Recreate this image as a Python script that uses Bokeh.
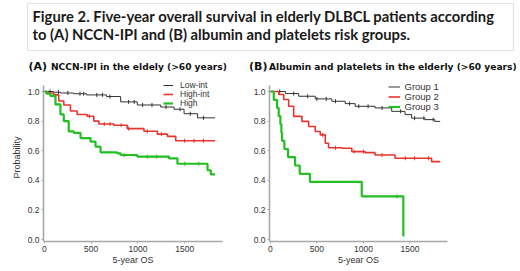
import numpy as np
from bokeh.plotting import figure
from bokeh.models import Label, Legend, LegendItem, Range1d, FixedTicker, BoxAnnotation
from bokeh.layouts import column, row
from bokeh.embed import file_html
from bokeh.resources import INLINE

# ---------------- data ----------------
title_lines = ["Figure 2. Five-year overall survival in elderly DLBCL patients according",
               "to (A) NCCN-IPI and (B) albumin and platelets risk groups."]
panel_a_tag = "(A)"
panel_a_title = "NCCN-IPI in the eldely (>60 years)"
panel_b_tag = "(B)"
panel_b_title = "Albumin and platelets in the elderly (>60 years)"
x_label = "5-year OS"
y_label = "Probability"

x_ticks = [0, 500, 1000, 1500]
y_ticks = [0.0, 0.2, 0.4, 0.6, 0.8, 1.0]
y_tick_labels = ["0.0", "0.2", "0.4", "0.6", "0.8", "1.0"]

# Panel A: NCCN-IPI
a_names = ["Low-int", "High-int", "High"]
a_low_t = [0, 96, 171, 311, 450, 664, 815, 993, 1243, 1386, 1493, 1637, 1825]
a_low_s = [1.0, 0.995, 0.99, 0.985, 0.977, 0.966, 0.93, 0.909, 0.895, 0.88, 0.85, 0.822, 0.822]
a_hint_t = [0, 29, 99, 153, 207, 278, 350, 457, 528, 582, 743, 886, 1064, 1208, 1315, 1404, 1825]
a_hint_s = [1.0, 0.99, 0.977, 0.936, 0.909, 0.868, 0.845, 0.833, 0.80, 0.78, 0.772, 0.749, 0.731, 0.712, 0.697, 0.667, 0.667]
a_high_t = [0, 21, 64, 118, 171, 207, 260, 314, 386, 493, 546, 600, 779, 814, 993, 1332, 1422, 1744, 1779, 1825]
a_high_s = [1.0, 0.985, 0.97, 0.913, 0.845, 0.80, 0.73, 0.72, 0.685, 0.662, 0.628, 0.589, 0.582, 0.571, 0.56, 0.548, 0.512, 0.468, 0.44, 0.44]
a_low_cens = [60, 150, 250, 380, 420, 560, 620, 700, 900, 960, 1050, 1150, 1300, 1450, 1560, 1700]
a_hint_cens = [480, 640, 700, 820, 900, 1100, 1250, 1500, 1600, 1700]
a_high_cens = [850, 1100, 1200, 1500, 1650]

# Panel B: albumin and platelets
b_names = ["Group 1", "Group 2", "Group 3"]
b_g1_t = [0, 161, 304, 482, 661, 804, 911, 1125, 1304, 1447, 1518, 1661, 1768, 1825]
b_g1_s = [1.0, 0.986, 0.968, 0.95, 0.934, 0.918, 0.90, 0.889, 0.866, 0.844, 0.82, 0.81, 0.798, 0.798]
b_g2_t = [0, 89, 143, 196, 250, 339, 411, 482, 536, 590, 625, 768, 875, 1018, 1125, 1340, 1733, 1825]
b_g2_s = [1.0, 0.98, 0.946, 0.90, 0.832, 0.798, 0.764, 0.73, 0.707, 0.65, 0.62, 0.617, 0.594, 0.587, 0.571, 0.549, 0.526, 0.526]
b_g3_t = [0, 36, 71, 89, 107, 118, 125, 150, 190, 265, 315, 425, 982, 1429]
b_g3_s = [1.0, 0.944, 0.889, 0.833, 0.778, 0.722, 0.667, 0.611, 0.556, 0.50, 0.444, 0.389, 0.292, 0.02]
b_g1_cens = [100, 250, 400, 500, 600, 700, 850, 950, 1050, 1200, 1400, 1550, 1650, 1750]
b_g2_cens = [560, 700, 900, 1000, 1200, 1450, 1550, 1700]
b_g3_cens = [1360]

# ---------------- styles ----------------
COLORS = ["#333333", "#e8342f", "#22bf22"]
WIDTHS = [1.0, 1.6, 2.2]
AXIS_COLOR = "#a8a8a8"
TXT = "#333333"
SANS = "Liberation Sans"
X_RANGE = (-10, 1904)
Y_BOT = -0.0135
Y_AXIS_TOP = 1.04
HEAD_H = 73            # px, height of the heading strip
FRAME_H = 168          # px, panel frame height
PX_PER_UNIT = 148.0
Y_TOP = Y_BOT + FRAME_H / PX_PER_UNIT


def step_value(ts, ss, c):
    idx = np.searchsorted(np.asarray(ts), np.asarray(c), side="right") - 1
    return np.asarray(ss)[idx]


def make_panel(width, left, right, series, names, leg_x, leg_ys, leg_cfg, ylab):
    p = figure(width=width, height=FRAME_H + 30, output_backend="svg", toolbar_location=None,
               x_range=Range1d(*X_RANGE), y_range=Range1d(Y_BOT, Y_TOP),
               min_border_left=left, min_border_right=right,
               min_border_top=0, min_border_bottom=30)
    p.outline_line_color = None
    p.grid.visible = False
    p.background_fill_color = "white"
    p.border_fill_color = "white"

    for i, (ts, ss, cens) in enumerate(series):
        r = p.step(ts, ss, mode="after", line_color=COLORS[i], line_width=WIDTHS[i])
        cy = step_value(ts, ss, cens)
        p.scatter(cens, cy, marker="dash", angle=np.pi / 2, size=4,
                  line_color=COLORS[i], line_width=1)
        # one legend row per series, so the rows can sit tightly together
        leg = Legend(items=[LegendItem(label=names[i], renderers=[r])],
                     location=(leg_x, leg_ys[i]), orientation="vertical",
                     label_text_font=SANS, label_text_font_size=leg_cfg["fs"],
                     label_text_color=TXT, label_height=leg_cfg["lh"],
                     glyph_height=leg_cfg["lh"], glyph_width=leg_cfg["gw"],
                     label_standoff=leg_cfg["ls"], spacing=0, padding=0, margin=0,
                     border_line_color=None, background_fill_alpha=0)
        p.add_layout(leg)

    for ax in (p.xaxis[0], p.yaxis[0]):
        ax.axis_line_color = AXIS_COLOR
        ax.axis_line_width = 1.6
        ax.major_tick_line_color = AXIS_COLOR
        ax.major_tick_out = 2
        ax.major_tick_in = 0
        ax.minor_tick_line_color = None
        ax.major_label_text_font = SANS
        ax.major_label_text_font_size = "8.5px"
        ax.major_label_text_color = TXT
        ax.major_label_standoff = 2
        ax.axis_label_text_font = SANS
        ax.axis_label_text_font_size = "9px"
        ax.axis_label_text_font_style = "normal"
        ax.axis_label_text_color = TXT
    p.yaxis.bounds = (Y_BOT, Y_AXIS_TOP)
    p.xaxis.ticker = FixedTicker(ticks=x_ticks)
    p.yaxis.ticker = FixedTicker(ticks=y_ticks)
    p.yaxis.major_label_overrides = {t: l for t, l in zip(y_ticks, y_tick_labels)}
    p.xaxis.axis_label = x_label
    p.xaxis.axis_label_standoff = 0
    if ylab:
        p.yaxis.axis_label = y_label
        p.yaxis.axis_label_standoff = 3
    return p


pa = make_panel(248, 43, 26,
                [(a_low_t, a_low_s, a_low_cens), (a_hint_t, a_hint_s, a_hint_cens),
                 (a_high_t, a_high_s, a_high_cens)],
                a_names, 120, [151.5, 142.5, 133.5],
                {"fs": "8.5px", "lh": 8, "gw": 10, "ls": 7}, True)
pb = make_panel(272, 21, 73,
                [(b_g1_t, b_g1_s, b_g1_cens), (b_g2_t, b_g2_s, b_g2_cens),
                 (b_g3_t, b_g3_s, b_g3_cens)],
                b_names, 118.5, [149.5, 139.5, 129.5],
                {"fs": "9.5px", "lh": 9, "gw": 12, "ls": 5}, False)

# heading strip: caption box + panel titles (pixel-aligned coordinates)
pt = figure(width=520, height=HEAD_H, output_backend="svg", toolbar_location=None,
            x_axis_location=None, y_axis_location=None,
            x_range=Range1d(0, 520), y_range=Range1d(HEAD_H, 0),
            min_border_left=0, min_border_right=0, min_border_top=0, min_border_bottom=0)
pt.grid.visible = False
pt.outline_line_color = None
pt.add_layout(BoxAnnotation(left=27, right=513, top=3, bottom=50, fill_alpha=0,
                            line_color="#9a9a9a", line_width=1.2))
for txt, yy in zip(title_lines, [15.5, 33]):
    pt.add_layout(Label(x=32, y=yy, text=txt,
                        text_font="Lato", text_font_style="bold", text_font_size="14.8px",
                        text_baseline="middle", text_color="#1a1a1a"))
for txt, xx, fs in [(panel_a_tag, 28, "11px"), (panel_a_title, 50.5, "9.1px"),
                    (panel_b_tag, 248.5, "11px"), (panel_b_title, 268.5, "9.1px")]:
    pt.add_layout(Label(x=xx, y=66, text=txt,
                        text_font="DejaVu Sans", text_font_style="bold", text_font_size=fs,
                        text_baseline="middle", text_color="#111111"))

layout = column(pt, row(pa, pb))
open("out.html", "w").write(file_html(layout, INLINE))
